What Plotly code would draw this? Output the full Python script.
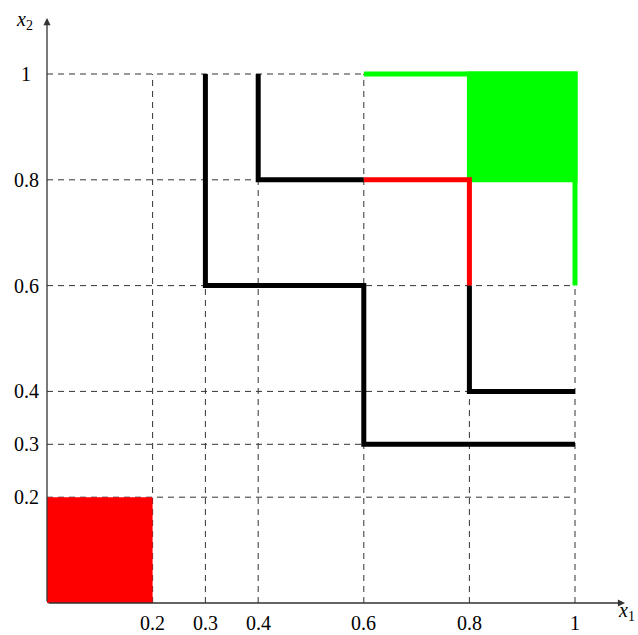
import plotly.graph_objects as go

# ---- data ----
x_ticks = [0.2, 0.3, 0.4, 0.6, 0.8, 1.0]
x_tick_labels = ["0.2", "0.3", "0.4", "0.6", "0.8", "1"]
y_ticks = [0.2, 0.3, 0.4, 0.6, 0.8, 1.0]
y_tick_labels = ["0.2", "0.3", "0.4", "0.6", "0.8", "1"]

red_box_x = [0, 0.2, 0.2, 0, 0]
red_box_y = [0, 0, 0.2, 0.2, 0]
green_box_x = [0.8, 1.0, 1.0, 0.8, 0.8]
green_box_y = [0.8, 0.8, 1.0, 1.0, 0.8]
green_edge_x = [0.6, 1.0, 1.0]
green_edge_y = [1.0, 1.0, 0.6]

black1_x = [0.3, 0.3, 0.6, 0.6, 1.0]
black1_y = [1.0, 0.6, 0.6, 0.3, 0.3]
black2a_x = [0.4, 0.4, 0.6]
black2a_y = [1.0, 0.8, 0.8]
red_path_x = [0.6, 0.8, 0.8]
red_path_y = [0.8, 0.8, 0.6]
black2b_x = [0.8, 0.8, 1.0]
black2b_y = [0.6, 0.4, 0.4]

FONT = "Liberation Serif"
W, H = 638, 635
x0_px, y0_px = 47, 603
sx, sy = 528, 529

fig = go.Figure()

# dashed grid lines
shapes = []
for xv in x_ticks:
    shapes.append(dict(type="line", xref="x", yref="y", x0=xv, x1=xv, y0=0, y1=1,
                       line=dict(color="#333", width=1, dash="6px,5px"), layer="below"))
for yv in y_ticks:
    shapes.append(dict(type="line", xref="x", yref="y", x0=0, x1=1, y0=yv, y1=yv,
                       line=dict(color="#333", width=1, dash="6px,5px"), layer="below"))

fig.add_trace(go.Scatter(x=red_box_x, y=red_box_y, fill="toself", fillcolor="#ff0000",
                         mode="lines", line=dict(width=0, color="#ff0000"), hoverinfo="skip"))
fig.add_trace(go.Scatter(x=green_box_x, y=green_box_y, fill="toself", fillcolor="#00ff00",
                         mode="lines", line=dict(width=5, color="#00ff00"), hoverinfo="skip"))
fig.add_trace(go.Scatter(x=green_edge_x, y=green_edge_y, mode="lines",
                         line=dict(width=5, color="#00ff00"), hoverinfo="skip"))
for xs, ys, c in [(black1_x, black1_y, "black"), (black2a_x, black2a_y, "black"),
                  (black2b_x, black2b_y, "black"), (red_path_x, red_path_y, "#ff0000")]:
    fig.add_trace(go.Scatter(x=xs, y=ys, mode="lines", line=dict(width=5, color=c),
                             hoverinfo="skip"))

annotations = []
# axes with arrows
x_end = (625 - x0_px) / sx
y_end = (y0_px - 18) / sy
annotations.append(dict(x=x_end, y=0, ax=0, ay=0, xref="x", yref="y", axref="x", ayref="y",
                        showarrow=True, arrowhead=2, arrowsize=1.1, arrowwidth=1.3,
                        arrowcolor="#333", text=""))
annotations.append(dict(x=0, y=y_end, ax=0, ay=0, xref="x", yref="y", axref="x", ayref="y",
                        showarrow=True, arrowhead=2, arrowsize=1.1, arrowwidth=1.3,
                        arrowcolor="#333", text=""))

lab_y = (y0_px - 623) / sy
for xv, t in zip(x_ticks, x_tick_labels):
    annotations.append(dict(x=xv, y=lab_y, text=t, showarrow=False, xref="x", yref="y",
                            xanchor="center", yanchor="middle", borderpad=0))
lab_x = (26 - x0_px) / sx
for yv, t in zip(y_ticks, y_tick_labels):
    annotations.append(dict(x=lab_x, y=yv, text=t, showarrow=False, xref="x", yref="y",
                            xanchor="center", yanchor="middle", borderpad=0))
annotations.append(dict(x=(626 - x0_px) / sx, y=(y0_px - 611) / sy,
                        text="<i>x</i><sub>1</sub>", showarrow=False, xref="x", yref="y",
                        borderpad=0))
annotations.append(dict(x=(24 - x0_px) / sx, y=(y0_px - 20) / sy,
                        text="<i>x</i><sub>2</sub>", showarrow=False, xref="x", yref="y",
                        borderpad=0))

fig.update_layout(
    width=W, height=H,
    margin=dict(l=0, r=0, t=0, b=0),
    paper_bgcolor="white", plot_bgcolor="white",
    font=dict(family=FONT, size=20, color="black"),
    showlegend=False,
    shapes=shapes,
    annotations=annotations,
    xaxis=dict(range=[-x0_px / sx, (W - x0_px) / sx], visible=False, fixedrange=True),
    yaxis=dict(range=[(y0_px - H) / sy, y0_px / sy], visible=False, fixedrange=True),
)

fig.write_html("out.html", config=dict(displayModeBar=False),
               post_script="document.body.style.margin='0';document.body.style.overflow='hidden';")
